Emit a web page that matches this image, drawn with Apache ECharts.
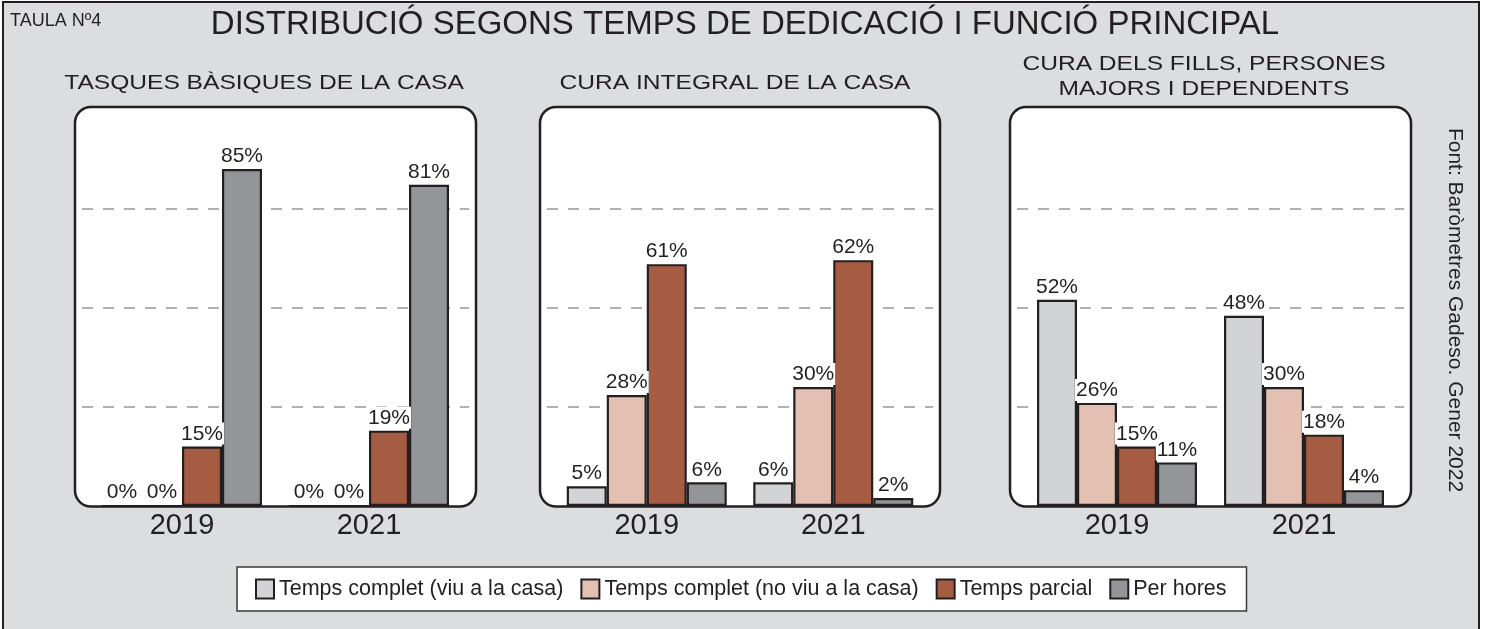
<!DOCTYPE html>
<html>
<head>
<meta charset="utf-8">
<script src="https://cdn.jsdelivr.net/npm/echarts@6/dist/echarts.min.js"></script>
<style>html,body{margin:0;padding:0;background:#fff}#c{width:1489px;height:629px}</style>
</head>
<body>
<div id="c"></div>
<script>
// ---- data ----
const years = ['2019', '2021'];
const seriesNames = ['Temps complet (viu a la casa)', 'Temps complet (no viu a la casa)', 'Temps parcial', 'Per hores'];
const panelTitles = ['TASQUES BÀSIQUES DE LA CASA', 'CURA INTEGRAL DE LA CASA', 'CURA DELS FILLS, PERSONES\nMAJORS I DEPENDENTS'];
// Tasques bàsiques de la casa
const basicViu = [0, 0];
const basicNoViu = [0, 0];
const basicParcial = [15, 19];
const basicHores = [85, 81];
// Cura integral de la casa
const integralViu = [5, 6];
const integralNoViu = [28, 30];
const integralParcial = [61, 62];
const integralHores = [6, 2];
// Cura dels fills, persones majors i dependents
const fillsViu = [52, 48];
const fillsNoViu = [26, 30];
const fillsParcial = [15, 18];
const fillsHores = [11, 4];

const panelData = [
  [basicViu, basicNoViu, basicParcial, basicHores],
  [integralViu, integralNoViu, integralParcial, integralHores],
  [fillsViu, fillsNoViu, fillsParcial, fillsHores]
];

// ---- styles / layout ----
const colors = ['#d1d3d5', '#e3c0b1', '#a65c42', '#939598'];
const ink = '#231f20';
const font = '"Liberation Sans", Arial, Helvetica, sans-serif';
const boxes = [[75, 476], [540, 940], [1010, 1411]];
const boxTop = 107, boxBottom = 506.5;
const plotTop = 109.5, plotH = 396.5;
const titleX = [264, 735, 1204];

const grid = [], xAxis = [], yAxis = [], series = [], graphic = [];

graphic.push({type: 'rect', z: -20, shape: {x: 3, y: 2, width: 1476, height: 700},
  style: {fill: '#dcdddf', stroke: ink, lineWidth: 2}});

boxes.forEach(([L, R], p) => {
  graphic.push({type: 'rect', z: -10, shape: {x: L, y: boxTop, width: R - L, height: boxBottom - boxTop, r: 16},
    style: {fill: '#ffffff', stroke: ink, lineWidth: 2.5}});
  grid.push({left: L + 13.5, width: R - L - 27, top: plotTop, height: plotH, containLabel: false, outerBoundsMode: 'none'});
  grid.push({left: L + 7, width: R - L - 14, top: plotTop, height: plotH, containLabel: false, outerBoundsMode: 'none'});
  const gb = p * 2, gl = p * 2 + 1;
  xAxis.push({type: 'category', gridIndex: gb, data: years,
    axisLine: {show: false}, axisTick: {show: false},
    axisLabel: {fontSize: 29, color: ink, margin: 5, fontFamily: font}});
  xAxis.push({type: 'value', gridIndex: gl, min: 0, max: 1, show: false});
  yAxis.push({type: 'value', gridIndex: gb, min: 0, max: 100, show: false, splitLine: {show: false}});
  yAxis.push({type: 'value', gridIndex: gl, min: 0, max: 100, interval: 25, z: 1,
    axisLine: {show: false}, axisTick: {show: false}, axisLabel: {show: false},
    splitLine: {show: true, showMinLine: false, showMaxLine: false,
      lineStyle: {color: '#aeb0b3', width: 2, type: [11, 10]}}});
  panelData[p].forEach((vals, s) => {
    series.push({
      type: 'bar', name: seriesNames[s], xAxisIndex: gb, yAxisIndex: gb,
      data: vals, barWidth: 40, barGap: '0%', z: 3,
      itemStyle: {color: colors[s], borderColor: ink, borderWidth: 2.2},
      label: {show: true, position: 'top', distance: 2, formatter: '{c}%',
        fontSize: 21, color: ink, fontFamily: font, backgroundColor: '#ffffff', padding: [1, 1, 0, 1]},
      emphasis: {disabled: true}
    });
  });
  const lines = panelTitles[p].split('\n');
  lines.forEach((t, i) => {
    const y = lines.length === 1 ? 83 : 64 + i * 25;
    graphic.push({type: 'text', x: titleX[p], y: y, scaleX: 1.17, scaleY: 1, originX: 0, originY: 0,
      style: {text: t, fontSize: 21, fontFamily: font, fill: ink, align: 'center', verticalAlign: 'middle'}});
  });
});

graphic.push({type: 'text', x: 10, y: 21,
  style: {text: 'TAULA Nº4', fontSize: 18, fontFamily: font, fill: ink, align: 'left', verticalAlign: 'middle'}});
graphic.push({type: 'text', x: 745, y: 25,
  style: {text: 'DISTRIBUCIÓ SEGONS TEMPS DE DEDICACIÓ I FUNCIÓ PRINCIPAL', fontSize: 33, fontFamily: font, fill: ink, align: 'center', verticalAlign: 'middle'}});
graphic.push({type: 'text', x: 1455, y: 310, rotation: -Math.PI / 2,
  style: {text: 'Font: Baròmetres Gadeso. Gener 2022', fontSize: 21, fontFamily: font, fill: ink, align: 'center', verticalAlign: 'middle'}});

const chart = echarts.init(document.getElementById('c'), null, {renderer: 'canvas'});
chart.setOption({
  backgroundColor: '#ffffff',
  animation: false,
  textStyle: {fontFamily: font},
  grid, xAxis, yAxis, series, graphic,
  legend: {
    data: seriesNames, left: 237, top: 567,
    padding: [11, 20, 11, 18], itemGap: 17, itemWidth: 18, itemHeight: 19,
    backgroundColor: '#ffffff', borderColor: '#3a3a3a', borderWidth: 1.5,
    icon: 'rect', selectedMode: false,
    itemStyle: {borderColor: ink, borderWidth: 2},
    textStyle: {fontSize: 21.5, color: ink, fontFamily: font}
  }
});
</script>
</body>
</html>
